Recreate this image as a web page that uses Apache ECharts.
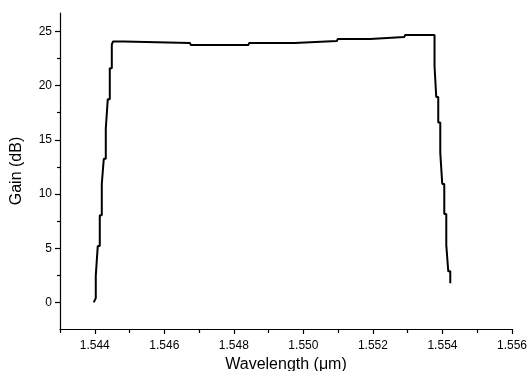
<!DOCTYPE html>
<html><head><meta charset="utf-8">
<script src="https://cdn.jsdelivr.net/npm/echarts@6/dist/echarts.min.js"></script>
<style>html,body{margin:0;padding:0;background:#fff}#c{width:527px;height:371px}</style>
</head><body><div id="c"></div>
<script>
const wavelength = [1.543971, 1.544029, 1.544029, 1.544086, 1.544086, 1.544144, 1.544144, 1.544202, 1.544202, 1.544259, 1.544259, 1.544317, 1.544317, 1.544374, 1.544374, 1.544432, 1.544432, 1.544490, 1.544490, 1.544527, 1.544835, 1.544864, 1.546736, 1.546765, 1.548415, 1.548444, 1.549740, 1.549769, 1.550961, 1.550990, 1.551920, 1.551949, 1.552900, 1.552929, 1.553772, 1.553772, 1.553821, 1.553821, 1.553879, 1.553879, 1.553937, 1.553937, 1.553994, 1.553994, 1.554052, 1.554052, 1.554110, 1.554110, 1.554167, 1.554167, 1.554225, 1.554225];
const gain = [0, 0.4, 2.47, 2.47, 5.2, 5.2, 8.05, 8.05, 10.95, 10.95, 13.25, 13.25, 16.05, 16.05, 18.75, 18.75, 21.6, 21.6, 23.8, 24.07, 24.07, 23.93, 23.93, 23.74, 23.74, 23.93, 23.93, 24.11, 24.11, 24.3, 24.3, 24.48, 24.48, 24.67, 24.67, 21.8, 21.8, 18.95, 18.95, 16.6, 16.6, 13.8, 13.8, 10.93, 10.93, 8.15, 8.15, 5.3, 5.3, 2.87, 2.87, 1.78];
const xMajorTicks = [1.544, 1.546, 1.548, 1.550, 1.552, 1.554, 1.556];
const xMinorTicks = [1.543, 1.545, 1.547, 1.549, 1.551, 1.553, 1.555];
const yMajorTicks = [0, 5, 10, 15, 20, 25];
const yMinorTicks = [2.5, 7.5, 12.5, 17.5, 22.5];

const FONT = "'Liberation Sans', Arial, sans-serif";
const chart = echarts.init(document.getElementById('c'), null, {renderer: 'canvas'});
const axisLine = {show: true, onZero: false, lineStyle: {color: '#000', width: 1.2}};
chart.setOption({
  animation: false,
  backgroundColor: '#fff',
  grid: {left: 60, right: 15, top: 13, bottom: 42, containLabel: false, outerBoundsMode: 'none'},
  xAxis: [{
    type: 'value', min: 1.543, max: 1.556, position: 'bottom',
    axisLine: axisLine,
    axisTick: {show: true, inside: false, length: 5, customValues: xMajorTicks, lineStyle: {color: '#000', width: 1.2}},
    axisLabel: {show: true, customValues: xMajorTicks, margin: 11, color: '#000', fontSize: 12, fontFamily: FONT,
      formatter: v => v.toFixed(3)},
    splitLine: {show: false},
    name: 'Wavelength (\u03bcm)', nameLocation: 'middle', nameGap: 27,
    nameTextStyle: {color: '#000', fontSize: 16, fontFamily: FONT}
  }, {
    type: 'value', min: 1.543, max: 1.556, position: 'bottom', offset: 0,
    axisLine: {show: false, onZero: false},
    axisTick: {show: true, inside: false, length: 4, customValues: xMinorTicks, lineStyle: {color: '#000', width: 1.2}},
    axisLabel: {show: false},
    splitLine: {show: false}
  }],
  yAxis: [{
    type: 'value', min: -2.45, max: 26.7, position: 'left',
    axisLine: axisLine,
    axisTick: {show: true, inside: false, length: 5, customValues: yMajorTicks, lineStyle: {color: '#000', width: 1.2}},
    axisLabel: {show: true, customValues: yMajorTicks, margin: 8, color: '#000', fontSize: 12, fontFamily: FONT},
    splitLine: {show: false},
    name: 'Gain (dB)', nameLocation: 'middle', nameGap: 35, nameRotate: 90,
    nameTextStyle: {color: '#000', fontSize: 16, fontFamily: FONT}
  }, {
    type: 'value', min: -2.45, max: 26.7, position: 'left', offset: 0,
    axisLine: {show: false, onZero: false},
    axisTick: {show: true, inside: false, length: 3, customValues: yMinorTicks, lineStyle: {color: '#000', width: 1.2}},
    axisLabel: {show: false},
    splitLine: {show: false}
  }],
  series: [{
    type: 'line', xAxisIndex: 0, yAxisIndex: 0,
    data: wavelength.map((w, i) => [w, gain[i]]),
    showSymbol: false, symbol: 'none',
    lineStyle: {color: '#000', width: 2},
    clip: false
  }]
});
</script></body></html>
